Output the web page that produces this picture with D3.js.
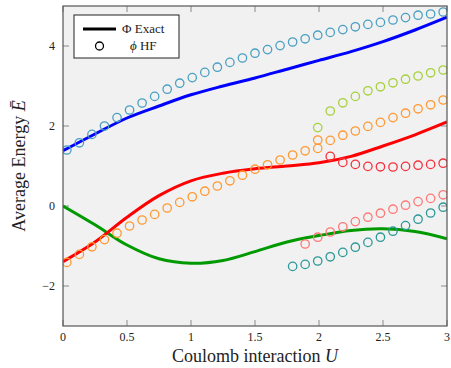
<!DOCTYPE html>
<html><head><meta charset="utf-8">
<script src="https://cdn.jsdelivr.net/npm/d3@7"></script>
<style>body{margin:0;background:#fff}svg{display:block}text{font-family:"Liberation Serif","DejaVu Serif",serif;fill:#222}</style>
</head><body><svg id="c" width="451" height="368"></svg>
<script>
// Exact curves sampled at U
const Uexact = [0,0.25,0.5,0.75,1,1.25,1.5,1.75,2,2.25,2.5,2.75,3];
const exactBlue  = [1.38,1.8,2.2,2.5,2.78,3.0,3.2,3.42,3.64,3.86,4.11,4.4,4.72];
const exactRed   = [-1.39,-0.9,-0.28,0.26,0.63,0.82,0.93,1.0,1.08,1.24,1.5,1.78,2.1];
const exactGreen = [0,-0.47,-0.975,-1.32,-1.43,-1.36,-1.14,-0.9,-0.74,-0.61,-0.57,-0.64,-0.82];
// HF grid
const Uhf = [0.03,0.128,0.226,0.324,0.422,0.52,0.618,0.716,0.814,0.912,1.01,1.108,1.206,1.304,1.402,1.5,1.598,1.696,1.794,1.892,1.99,2.088,2.186,2.284,2.382,2.48,2.578,2.676,2.774,2.872,2.97];
const N = null;
const hfTeal   = [1.4,1.58,1.79,2.0,2.21,2.4,2.575,2.74,2.92,3.07,3.21,3.34,3.47,3.59,3.7,3.82,3.91,4.01,4.1,4.18,4.27,4.34,4.41,4.48,4.54,4.59,4.65,4.71,4.77,4.8,4.85];
const hfOrange = [-1.41,-1.21,-1.02,-0.84,-0.68,-0.5,-0.35,-0.21,-0.05,0.09,0.23,0.37,0.5,0.63,0.77,0.92,1.03,1.15,1.275,1.38,1.44,1.64,1.77,1.875,1.99,2.09,2.21,2.32,2.43,2.53,2.65];
const hfOrangeExtraU = [1.99];
const hfOrangeExtra = [1.65];
const hfLime   = [N,N,N,N,N,N,N,N,N,N,N,N,N,N,N,N,N,N,N,N,1.96,2.375,2.58,2.74,2.88,2.98,3.08,3.17,3.25,3.33,3.4];
const hfRed    = [N,N,N,N,N,N,N,N,N,N,N,N,N,N,N,N,N,N,N,N,N,1.24,1.09,1.04,0.99,0.98,0.975,0.99,1.02,1.04,1.07];
const hfSalmon = [N,N,N,N,N,N,N,N,N,N,N,N,N,N,N,N,N,N,N,-0.95,-0.78,-0.65,-0.52,-0.39,-0.28,-0.18,-0.08,0.02,0.11,0.19,0.28];
const hfDarkTeal=[N,N,N,N,N,N,N,N,N,N,N,N,N,N,N,N,N,N,-1.51,-1.46,-1.375,-1.27,-1.16,-1.03,-0.91,-0.78,-0.63,-0.49,-0.33,-0.175,-0.03];
const xTicks = [0,0.5,1,1.5,2,2.5,3];
const xTickLabels = ["0","0.5","1","1.5","2","2.5","3"];
const yTicks = [-2,0,2,4];
const yTickLabels = ["\u22122","0","2","4"];

const svg = d3.select("#c");
const L=63,R=447,T=6,B=326;
const x = d3.scaleLinear().domain([0,3]).range([L,R]);
const y = d3.scaleLinear().domain([-3,5]).range([B,T]);

svg.append("rect").attr("x",L).attr("y",T).attr("width",R-L).attr("height",B-T).attr("fill","#f1f1f1");

const clip = svg.append("clipPath").attr("id","clp").append("rect").attr("x",L).attr("y",T).attr("width",R-L).attr("height",B-T);

// ticks (inward, all four sides)
const tk = svg.append("g").attr("stroke","#8a8a8a").attr("stroke-width",1);
xTicks.forEach(v=>{
  tk.append("line").attr("x1",x(v)).attr("x2",x(v)).attr("y1",B).attr("y2",B-6);
  tk.append("line").attr("x1",x(v)).attr("x2",x(v)).attr("y1",T).attr("y2",T+6);
});
yTicks.forEach(v=>{
  tk.append("line").attr("x1",L).attr("x2",L+6).attr("y1",y(v)).attr("y2",y(v));
  tk.append("line").attr("x1",R).attr("x2",R-6).attr("y1",y(v)).attr("y2",y(v));
});

const g = svg.append("g").attr("clip-path","url(#clp)");
const line = d3.line().x(d=>x(d[0])).y(d=>y(d[1])).curve(d3.curveCatmullRom.alpha(0.5));
[[exactGreen,"#009a00"],[exactRed,"#ff0000"],[exactBlue,"#0000ff"]].forEach(([vals,col])=>{
  g.append("path").attr("d",line(Uexact.map((u,i)=>[u,vals[i]]))).attr("fill","none").attr("stroke",col).attr("stroke-width",3);
});

function circles(us, vals, col){
  g.append("g").selectAll("circle").data(us.map((u,i)=>[u,vals[i]]).filter(d=>d[1]!==null))
    .join("circle").attr("cx",d=>x(d[0])).attr("cy",d=>y(d[1])).attr("r",4.2)
    .attr("fill","none").attr("stroke",col).attr("stroke-width",1.3);
}
circles(Uhf,hfTeal,"#4aa0c2");
circles(Uhf,hfOrange,"#ff9933");
circles(hfOrangeExtraU,hfOrangeExtra,"#ff9933");
circles(Uhf,hfLime,"#a6d13c");
circles(Uhf,hfRed,"#f5303c");
circles(Uhf,hfSalmon,"#ff7878");
circles(Uhf,hfDarkTeal,"#2b9898");

// frame
svg.append("rect").attr("x",L).attr("y",T).attr("width",R-L).attr("height",B-T).attr("fill","none").attr("stroke","#555").attr("stroke-width",1.2);

// tick labels
xTicks.forEach((v,i)=>{
  svg.append("text").attr("x",x(v)).attr("y",B+15).attr("text-anchor","middle").attr("font-size",12).text(xTickLabels[i]);
});
yTicks.forEach((v,i)=>{
  svg.append("text").attr("x",L-8).attr("y",y(v)+4).attr("text-anchor","end").attr("font-size",12).text(yTickLabels[i]);
});

// axis labels
const xl = svg.append("text").attr("x",(L+R)/2).attr("y",362).attr("text-anchor","middle").attr("font-size",18);
xl.append("tspan").text("Coulomb interaction ");
xl.append("tspan").attr("font-style","italic").text("U");
const yl = svg.append("text").attr("transform","translate(25,"+((T+B)/2)+") rotate(-90)").attr("text-anchor","middle").attr("font-size",18);
yl.append("tspan").text("Average Energy ");
yl.append("tspan").attr("font-style","italic").text("E\u0304");

// legend
const lg = svg.append("g");
lg.append("rect").attr("x",74).attr("y",15).attr("width",105).attr("height",43).attr("fill","#fff").attr("stroke","#222").attr("stroke-width",1);
lg.append("line").attr("x1",83).attr("x2",116).attr("y1",29).attr("y2",29).attr("stroke","#000").attr("stroke-width",3);
lg.append("text").attr("x",122).attr("y",33).attr("font-size",13).text("\u03A6 Exact");
lg.append("circle").attr("cx",99.5).attr("cy",46).attr("r",4).attr("fill","none").attr("stroke","#000").attr("stroke-width",1.3);
const t2 = lg.append("text").attr("x",130).attr("y",50).attr("font-size",13);
t2.append("tspan").attr("font-style","italic").text("\u03D5");
t2.append("tspan").text(" HF");
</script></body></html>
